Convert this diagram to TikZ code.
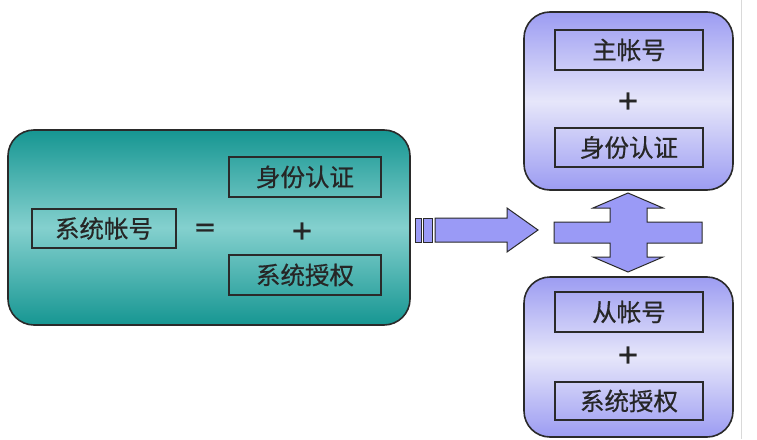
\documentclass[tikz,border=0pt]{standalone}
\usepackage{fontspec}
\newfontfamily\cjk[FakeBold=0.6]{Noto Sans CJK SC}
\newfontfamily\symf[FakeBold=1.2]{DejaVu Sans}
\definecolor{tealdark}{HTML}{169692}
\definecolor{teallight}{HTML}{84D0CE}
\definecolor{purpdark}{HTML}{9C9CF2}
\definecolor{purplight}{HTML}{E6E6FA}
\definecolor{arrowfill}{HTML}{9A9AF6}
\definecolor{edge}{HTML}{2A2A2A}
\tikzset{
  bigteal/.style={draw=edge, line width=1.6pt, rounded corners=26pt, top color=tealdark, bottom color=tealdark, middle color=teallight, inner sep=0pt},
  bigpurp/.style={draw=edge, line width=1.6pt, rounded corners=26pt, top color=purpdark, bottom color=purpdark, middle color=purplight, inner sep=0pt},
  itembox/.style={draw=edge, line width=1.4pt, font=\cjk\fontsize{24.5}{26}\selectfont, text=black!85, inner sep=0pt},
  sym/.style={font=\symf\fontsize{27}{28}\selectfont, text=black!85, inner sep=0pt},
  shapefill/.style={draw=edge, line width=1pt, fill=arrowfill, line join=miter}
}
\begin{document}
\begin{tikzpicture}[x=1pt,y=-1pt]
\useasboundingbox (0,0) rectangle (757,439);
\fill[white] (0,0) rectangle (757,439);
\draw[black!15, line width=1pt] (741,0) -- (741,439);

% left big box
\node[bigteal, minimum width=402pt, minimum height=195pt] (L) at (209,227.5) {};
\node[itembox, minimum width=144pt, minimum height=39pt] (sa) at (104,228.5) {系统帐号};
\node[sym] (eq) at (205,230) {=};
\node[itembox, minimum width=152pt, minimum height=40pt] (sf) at (305,177) {身份认证};
\node[sym] (p1) at (302,231) {+};
\node[itembox, minimum width=152pt, minimum height=40pt] (sq) at (305,275) {系统授权};

% right top box
\node[bigpurp, minimum width=209pt, minimum height=178pt] (T) at (628.5,101) {};
\node[itembox, minimum width=148pt, minimum height=40pt] (zh) at (629,50) {主帐号};
\node[sym] (p2) at (628,101) {+};
\node[itembox, minimum width=148pt, minimum height=39pt] (tsf) at (629,147.5) {身份认证};

% right bottom box
\node[bigpurp, minimum width=209pt, minimum height=160pt] (B) at (628.5,357) {};
\node[itembox, minimum width=148pt, minimum height=40pt] (cz) at (629,312) {从帐号};
\node[sym] (p3) at (628,355) {+};
\node[itembox, minimum width=148pt, minimum height=38pt] (bsq) at (629,401) {系统授权};

% arrow
\draw[shapefill] (415,218) rectangle (421,242);
\draw[shapefill] (423,218) rectangle (432,242);
\draw[shapefill] (435,218) -- (507,218) -- (507,208) -- (538,230) -- (507,252) -- (507,242) -- (435,242) -- cycle;

% cross double arrow
\draw[shapefill] (554,222) -- (610,222) -- (610,208) -- (593,208) -- (628,193) -- (663,208) -- (647,208) -- (647,222)
  -- (702,222) -- (702,243) -- (647,243) -- (647,257) -- (663,257) -- (628,272) -- (593,257) -- (610,257) -- (610,243)
  -- (554,243) -- cycle;
\end{tikzpicture}
\end{document}
